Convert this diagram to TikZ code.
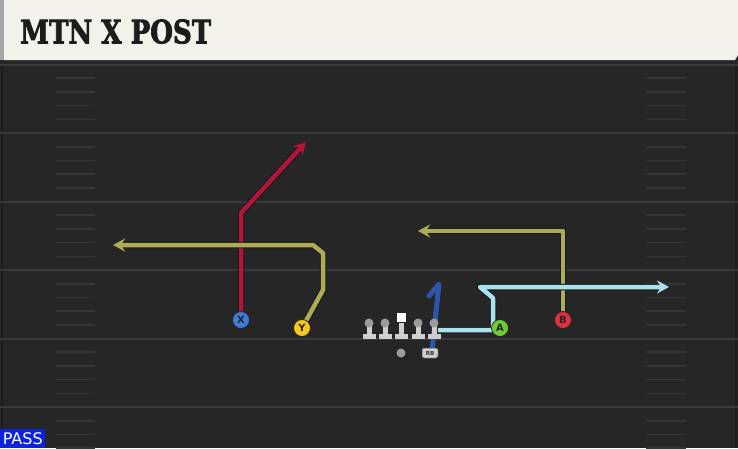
\documentclass[tikz,border=0pt]{standalone}
\usepackage{fontspec}
\setmainfont{DejaVu Sans}
\newfontfamily\titlefont[FakeBold=2.5]{DejaVu Serif}
\usetikzlibrary{arrows.meta}
\definecolor{fieldbg}{HTML}{262626}
\definecolor{fieldedge}{HTML}{1B1B1B}
\definecolor{yardc}{HTML}{3A3A3A}
\definecolor{hashc}{HTML}{363636}
\definecolor{cream}{HTML}{F4F1EA}
\definecolor{titlec}{HTML}{1C1C1C}
\definecolor{routered}{HTML}{B0153A}
\definecolor{olive}{HTML}{AEAB52}
\definecolor{lblue}{HTML}{A9E3F2}
\definecolor{rbblue}{HTML}{2D56AA}
\definecolor{xblue}{HTML}{3F7BDA}
\definecolor{yyellow}{HTML}{F6C71E}
\definecolor{agreen}{HTML}{6CCD2E}
\definecolor{bred}{HTML}{E0303F}
\definecolor{lgray}{HTML}{CFCFCF}
\definecolor{headgray}{HTML}{9C9C9C}
\definecolor{passblue}{HTML}{0B22DE}
\tikzset{
  route/.style={line width=4.5pt, line join=round, draw=#1,
    preaction={draw=black!90, line width=6.5pt, line join=round}},
  tipped/.style={-{Stealth[length=12pt,width=13pt,inset=4pt]}},
  player/.style={circle, fill=#1, draw=black!85, line width=0.8pt, minimum size=17pt,
    inner sep=0pt, font=\bfseries\fontsize{10}{10}\selectfont, text=black!85},
  lineman/.pic={
    \fill[lgray] (-2.5,2) rectangle (2.5,13);
    \fill[lgray] (-6.5,11) rectangle (6.5,16);
    \fill[headgray] (0,0) circle (4.5);
  },
  centerman/.pic={
    \fill[lgray] (-2.5,0) rectangle (2.5,13);
    \fill[lgray] (-6.5,11) rectangle (6.5,16);
    \fill[white] (-4.5,-10) rectangle (4.5,-1);
  }
}
\begin{document}
\begin{tikzpicture}[x=1pt,y=-1pt]
\useasboundingbox (0,0) rectangle (738,448);
\begin{scope}
\clip (0,0) rectangle (738,448);
\fill[fieldbg] (0,0) rectangle (738,448);
% field edges
\draw[fieldedge, line width=1.5pt] (2,64) -- (2,448);
\draw[fieldedge, line width=1.5pt] (736,64) -- (736,448);
% yard lines
\foreach \y in {64.5,133,201.5,270,338.5,407}
  \draw[yardc, line width=2pt] (0,\y) -- (738,\y);
% hash marks
\foreach \b in {64.5,133,201.5,270,338.5,407}
  \foreach \o in {13.7,27.4,41.1,54.8} {
    \pgfmathsetmacro\yy{\b+\o}
    \draw[hashc, line width=1.6pt] (56,\yy) -- (95,\yy);
    \draw[hashc, line width=1.6pt] (646,\yy) -- (686,\yy);
  }
% header
\fill[black!85] (0,58) rectangle (738,64);
\fill[cream] (4,0) -- (738,0) -- (738,55) -- (735,60) -- (4,60) -- cycle;
\fill[black!35] (0,0) rectangle (4,60);
\end{scope}
\node[anchor=south west, inner sep=0pt, text=titlec] (title) at (20,44)
  {\resizebox{191pt}{24pt}{\titlefont\bfseries MTN X POST}};

% positions
\coordinate (Xp) at (241,320);
\coordinate (Yp) at (302,328);
\coordinate (Ap) at (500,328);
\coordinate (Bp) at (563,320);
\coordinate (RBp) at (430,353);
\coordinate (Astart) at (438,330);

% routes
\draw[route=routered, tipped] (Xp) -- (241,213) -- (306,142);
\draw[route=olive, tipped] (Yp) -- (323,290) -- (323,253) -- (313,245) -- (113,245);
\draw[route=olive, tipped] (Bp) -- (563,231) -- (418,231);
\draw[route=lblue, tipped] (Astart) -- (493,330) -- (493,298) -- (480,287) -- (669,287);
\draw[rbblue, line width=5pt, line join=round, line cap=round] (432,350) -- (439,284) -- (429,296);

% line
\pic (LT) at (369,323) {lineman};
\pic (LG) at (385,323) {lineman};
\pic (C) at (401.5,323) {centerman};
\pic (RG) at (418,323) {lineman};
\pic (RT) at (434,323) {lineman};
\node[circle, fill=headgray, minimum size=9pt, inner sep=0pt] (QB) at (401,353) {};
\node[rounded corners=2pt, fill=lgray, draw=black!70, line width=0.5pt, minimum width=16pt, minimum height=10pt,
  inner sep=0pt, font=\bfseries\fontsize{5.5}{5.5}\selectfont, text=black!80] (RB) at (RBp) {RB};

% players
\node[player=xblue] (X) at (Xp) {X};
\node[player=yyellow] (Y) at (Yp) {Y};
\node[player=agreen] (A) at (Ap) {A};
\node[player=bred] (B) at (Bp) {B};

% play type
\node[anchor=south west, fill=passblue, text=white, minimum width=45pt, minimum height=19pt,
  inner sep=0pt, font=\fontsize{16}{16}\selectfont] (pass) at (0,448) {PASS};
\end{tikzpicture}
\end{document}
